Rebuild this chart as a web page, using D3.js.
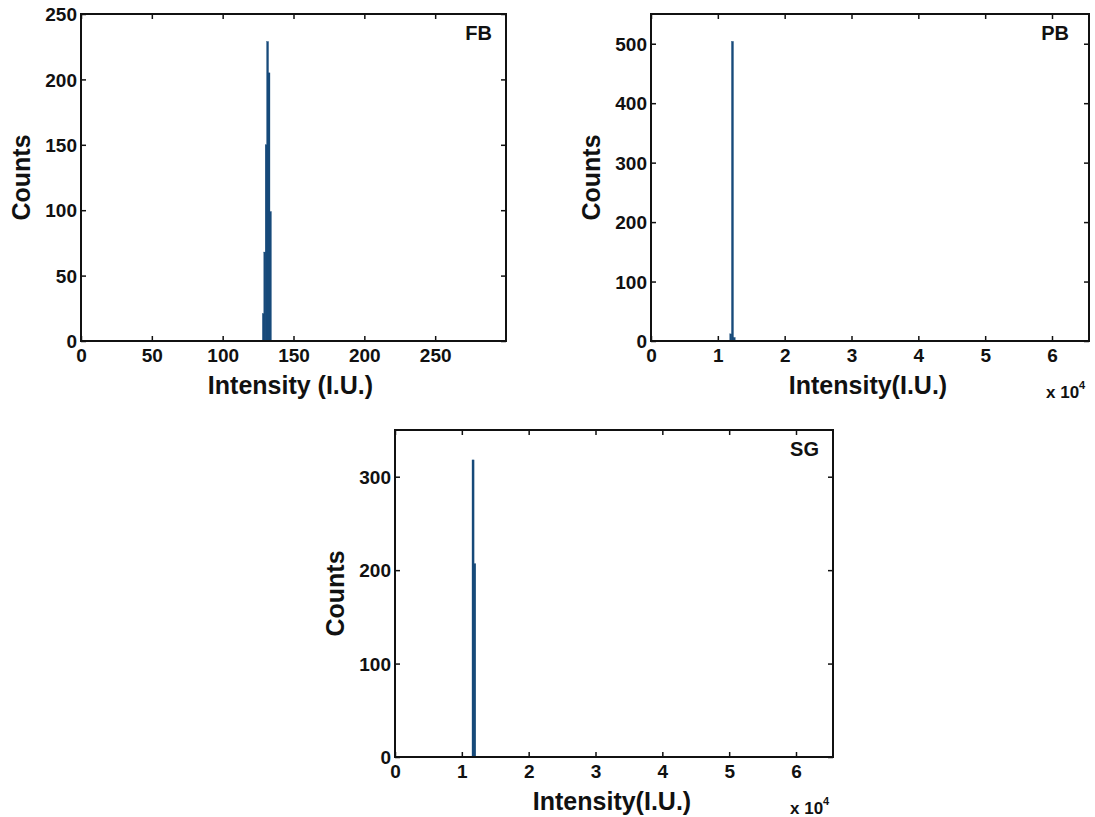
<!DOCTYPE html>
<html>
<head>
<meta charset="utf-8">
<script src="https://cdn.jsdelivr.net/npm/d3@7"></script>
<style>
  html, body { margin: 0; padding: 0; background: #fff; }
  svg { display: block; }
  text { font-family: "Liberation Sans", Arial, sans-serif; font-weight: bold; fill: #111; }
</style>
</head>
<body>
<svg id="chart" width="1095" height="817"></svg>
<script>
// Intensity histograms of three samples (bin start, count)
const fbBins   = [128, 129, 130, 131, 132, 133];
const fbCounts = [21, 68, 150, 229, 205, 99];
const fbBinWidth = 1;

const pbBins   = [11776, 12032, 12288];
const pbCounts = [12, 504, 6];
const pbBinWidth = 256;

const sgBins   = [11520, 11776];
const sgCounts = [318, 207];
const sgBinWidth = 256;

// Axis ticks
const fbXTicks = [0, 50, 100, 150, 200, 250];
const fbYTicks = [0, 50, 100, 150, 200, 250];
const wideXTicks = [0, 10000, 20000, 30000, 40000, 50000, 60000];
const pbYTicks = [0, 100, 200, 300, 400, 500];
const sgYTicks = [0, 100, 200, 300];

const svg = d3.select("#chart");
const barColor = "#174a7a";

function panel(opts) {
  const { box, xDomain, yDomain, xTicks, yTicks, bins, counts, binWidth,
          tag, tagRight, xLabel, scaled, yLabelX } = opts;
  const x = d3.scaleLinear().domain(xDomain).range([box.left, box.right]);
  const y = d3.scaleLinear().domain(yDomain).range([box.bottom, box.top]);
  const g = svg.append("g");

  // histogram bars, drawn edge to edge so neighbouring bins merge
  g.selectAll("rect.bar")
    .data(bins.map((b, i) => ({ b, c: counts[i] })))
    .enter().append("rect")
    .attr("class", "bar")
    .attr("x", d => x(d.b))
    .attr("width", d => Math.max(x(d.b + binWidth) - x(d.b), 1.6) + 0.4)
    .attr("y", d => y(d.c))
    .attr("height", d => y(0) - y(d.c))
    .attr("fill", barColor)
    .attr("stroke", barColor)
    .attr("stroke-width", 0.3);

  const fmt = scaled ? (d => d / 10000) : (d => d);

  const bottom = g.append("g")
    .attr("transform", `translate(0,${box.bottom})`)
    .call(d3.axisBottom(x).tickValues(xTicks).tickFormat(fmt)
      .tickSizeInner(-5).tickSizeOuter(0).tickPadding(7));
  const top = g.append("g")
    .attr("transform", `translate(0,${box.top})`)
    .call(d3.axisTop(x).tickValues(xTicks).tickFormat("")
      .tickSizeInner(-5).tickSizeOuter(0));
  const left = g.append("g")
    .attr("transform", `translate(${box.left},0)`)
    .call(d3.axisLeft(y).tickValues(yTicks)
      .tickSizeInner(-5).tickSizeOuter(0).tickPadding(4));
  const right = g.append("g")
    .attr("transform", `translate(${box.right},0)`)
    .call(d3.axisRight(y).tickValues(yTicks).tickFormat("")
      .tickSizeInner(-5).tickSizeOuter(0));

  [bottom, top, left, right].forEach(a => {
    a.select(".domain").remove();
    a.selectAll(".tick line").attr("stroke", "#111").attr("stroke-width", 1.5);
    a.selectAll("text").attr("font-size", 19).attr("fill", "#111")
      .attr("font-family", "Liberation Sans, Arial, sans-serif").attr("font-weight", "bold");
  });
  bottom.selectAll("text").attr("dy", "0.75em");
  left.selectAll("text").attr("dy", "0.35em");

  // frame
  g.append("rect")
    .attr("x", box.left).attr("y", box.top)
    .attr("width", box.right - box.left).attr("height", box.bottom - box.top)
    .attr("fill", "none").attr("stroke", "#111").attr("stroke-width", 2);

  // sample tag
  g.append("text")
    .attr("x", box.right - tagRight).attr("y", box.top + 26)
    .attr("text-anchor", "end").attr("font-size", 20)
    .text(tag);

  // axis titles
  g.append("text")
    .attr("x", (box.left + box.right) / 2 + (scaled ? -2 : -3))
    .attr("y", box.bottom + 53)
    .attr("text-anchor", "middle").attr("font-size", 25)
    .text(xLabel);
  g.append("text")
    .attr("transform", `translate(${yLabelX},${(box.top + box.bottom) / 2}) rotate(-90)`)
    .attr("text-anchor", "middle").attr("font-size", 25)
    .text("Counts");

  if (scaled) {
    const t = g.append("text")
      .attr("x", box.right - 43).attr("y", box.bottom + 57)
      .attr("font-size", 17);
    t.append("tspan").text("x 10");
    t.append("tspan").attr("dy", -9).attr("font-size", 11).text("4");
  }
}

panel({
  box: { left: 81, right: 506, top: 14, bottom: 341 },
  xDomain: [0, 300], yDomain: [0, 250],
  xTicks: fbXTicks, yTicks: fbYTicks,
  bins: fbBins, counts: fbCounts, binWidth: fbBinWidth,
  tag: "FB", tagRight: 14, xLabel: "Intensity (I.U.)", scaled: false, yLabelX: 30
});

panel({
  box: { left: 651, right: 1089, top: 14, bottom: 341 },
  xDomain: [0, 65536], yDomain: [0, 550],
  xTicks: wideXTicks, yTicks: pbYTicks,
  bins: pbBins, counts: pbCounts, binWidth: pbBinWidth,
  tag: "PB", tagRight: 20, xLabel: "Intensity(I.U.)", scaled: true, yLabelX: 600
});

panel({
  box: { left: 395, right: 833, top: 430, bottom: 757 },
  xDomain: [0, 65536], yDomain: [0, 350],
  xTicks: wideXTicks, yTicks: sgYTicks,
  bins: sgBins, counts: sgCounts, binWidth: sgBinWidth,
  tag: "SG", tagRight: 14, xLabel: "Intensity(I.U.)", scaled: true, yLabelX: 344
});
</script>
</body>
</html>
